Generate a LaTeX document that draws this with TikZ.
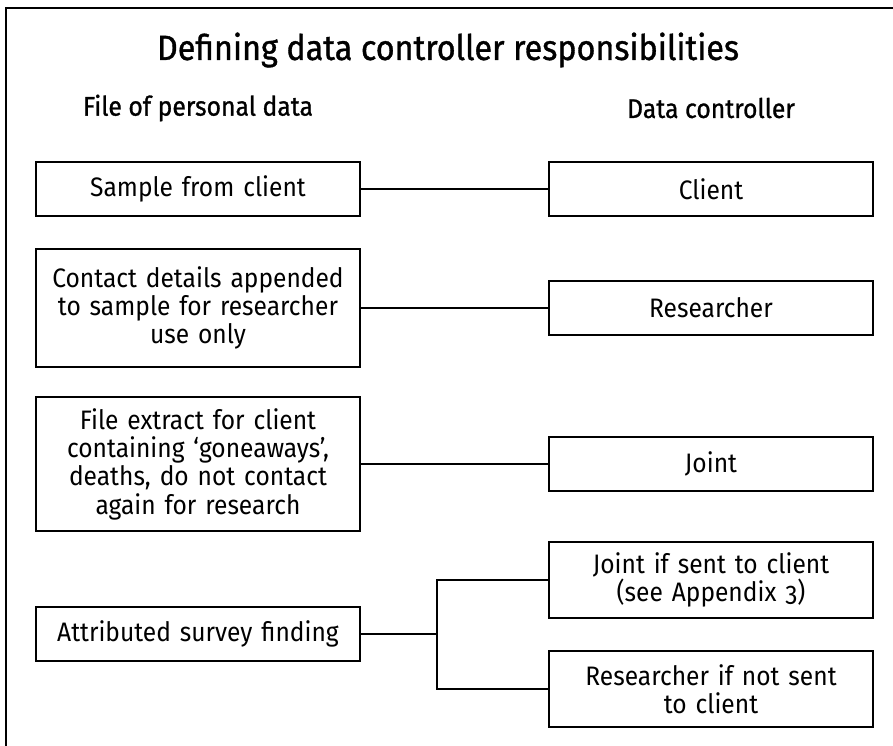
\documentclass[tikz,border=0pt]{standalone}
\usepackage{fontspec}
\setmainfont{Fira Sans}[Numbers=OldStyle, FakeStretch=0.92]
\usetikzlibrary{positioning}

\begin{document}
\begin{tikzpicture}[
  node distance=10.26cm,
  on grid,
  box/.style={draw, line width=1.1pt, text width=6.2cm, align=center,
    minimum width=6.48cm, minimum height=1.08cm, inner ysep=2pt,
    font=\fontsize{15.2}{16.1}\selectfont},
  heading/.style={font=\fontsize{15.3}{18}\selectfont\addfontfeature{FakeBold=1}},
  link/.style={line width=1pt},
  ]

\useasboundingbox (0,0) rectangle (17.86,-14.92);
\draw [line width=1.3pt] (17.86,-0.16) -| (0.12,-14.92);

\node [font=\fontsize{20}{24}\selectfont\addfontfeature{FakeBold=1}] (title) at (8.96,-1.0) {Defining data controller responsibilities};
\node [heading] (filehead) at (3.96,-2.16) {File of personal data};
\node [heading] (ctrlhead) [right=of filehead] {Data controller};

\node [box] (sample) at (3.96,-3.78) {Sample from client};
\node [box] (client) [right=of sample] {Client};
\node [box, minimum height=2.36cm] (contact) [below=2.38cm of sample] {Contact details appended\\to sample for researcher\\use only};
\node [box] (researcher) [right=of contact] {Researcher};
\node [box, minimum height=2.68cm] (extract) [below=3.12cm of contact] {File extract for client\\containing ‘goneaways’,\\deaths, do not contact\\again for research};
\node [box] (joint) [right=of extract] {Joint};
\node [box] (finding) [below=3.40cm of extract] {Attributed survey finding};
\node [box, minimum height=1.52cm] (jointif) [above right=1.08cm and 10.26cm of finding] {Joint if sent to client\\(see Appendix 3)};
\node [box, minimum height=1.52cm] (resif) [below right=1.10cm and 10.26cm of finding] {Researcher if not sent\\to client};
\coordinate [right=1.52cm of finding.east] (fork);

\draw [link] (sample) -- (client);
\draw [link] (contact) -- (researcher);
\draw [link] (extract) -- (joint);
\draw [link] (finding) -- (fork);
\draw [link] (fork) |- (jointif);
\draw [link] (fork) |- (resif);
\end{tikzpicture}
\end{document}
